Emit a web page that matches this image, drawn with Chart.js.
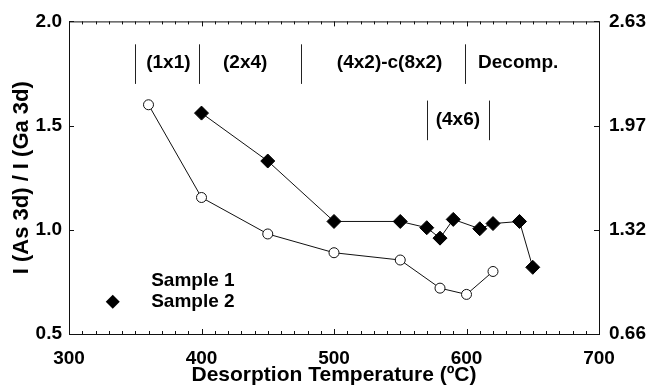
<!DOCTYPE html>
<html>
<head>
<meta charset="utf-8">
<script src="https://cdn.jsdelivr.net/npm/chart.js@4.4.0/dist/chart.umd.min.js"></script>
<style>
  body { margin: 0; background: #fff; }
  canvas { display: block; }
</style>
</head>
<body>
<canvas id="chart" width="648" height="388"></canvas>
<script>
// values
const temps1 = [360, 400, 450, 500, 550, 580, 600, 620];
const sample1 = [1.60, 1.155, 0.98, 0.89, 0.855, 0.72, 0.69, 0.80];
const temps2 = [400, 450, 500, 550, 570, 580, 590, 610, 620, 640, 650];
const sample2 = [1.56, 1.33, 1.04, 1.04, 1.01, 0.96, 1.05, 1.005, 1.03, 1.04, 0.82];

const xTicks = [300, 400, 500, 600, 700];
const leftTicks = [0.5, 1.0, 1.5, 2.0];
const rightTickLabels = ['0.66', '1.32', '1.97', '2.63'];

// surface phases along the temperature axis
const phaseBounds = [350, 398, 475, 599];
const phaseLabels = ['(1x1)', '(2x4)', '(4x2)-c(8x2)', 'Decomp.'];
const phaseLabelX = [375, 433, 542, 639];
const subPhaseBounds = [570, 617];
const subPhaseLabel = '(4x6)';

const FONT = '"Liberation Sans", Arial, Helvetica, sans-serif';

const toPoints = (xs, ys) => xs.map((x, i) => ({ x, y: ys[i] }));

const framePlugin = {
    id: 'frame',
    beforeDraw(chart) {
        const ctx = chart.ctx;
        ctx.save();
        ctx.fillStyle = '#fff';
        ctx.fillRect(0, 0, chart.width, chart.height);
        ctx.restore();
    },
    afterDraw(chart) {
        const { ctx, chartArea: a, scales } = chart;
        const x = scales.x, y = scales.y;
        ctx.save();
        ctx.strokeStyle = '#111';
        ctx.lineWidth = 1;
        ctx.strokeRect(a.left + 0.5, a.top + 0.5, a.right - a.left, a.bottom - a.top);

        // inward tick marks
        ctx.beginPath();
        for (let t = 300; t <= 700; t += 10) {
            const px = Math.round(x.getPixelForValue(t)) + 0.5;
            const len = t % 100 === 0 ? 5 : 3;
            ctx.moveTo(px, a.bottom); ctx.lineTo(px, a.bottom - len);
            ctx.moveTo(px, a.top); ctx.lineTo(px, a.top + len);
        }
        leftTicks.forEach(v => {
            const py = Math.round(y.getPixelForValue(v)) + 0.5;
            ctx.moveTo(a.left, py); ctx.lineTo(a.left + 5, py);
            ctx.moveTo(a.right, py); ctx.lineTo(a.right - 5, py);
        });
        ctx.stroke();

        // phase regions
        ctx.strokeStyle = '#222';
        ctx.beginPath();
        phaseBounds.forEach(t => {
            const px = Math.round(x.getPixelForValue(t)) + 0.5;
            ctx.moveTo(px, y.getPixelForValue(1.89));
            ctx.lineTo(px, y.getPixelForValue(1.70));
        });
        subPhaseBounds.forEach(t => {
            const px = Math.round(x.getPixelForValue(t)) + 0.5;
            ctx.moveTo(px, y.getPixelForValue(1.62));
            ctx.lineTo(px, y.getPixelForValue(1.43));
        });
        ctx.stroke();

        ctx.fillStyle = '#000';
        ctx.font = 'bold 19px ' + FONT;
        ctx.textAlign = 'center';
        ctx.textBaseline = 'middle';
        phaseLabels.forEach((lab, i) => {
            ctx.fillText(lab, x.getPixelForValue(phaseLabelX[i]), y.getPixelForValue(1.80));
        });
        ctx.fillText(subPhaseLabel,
            x.getPixelForValue((subPhaseBounds[0] + subPhaseBounds[1]) / 2),
            y.getPixelForValue(1.53));

        // legend
        const lx = x.getPixelForValue(362);
        ctx.textAlign = 'left';
        ctx.fillText(chart.data.datasets[0].label, lx, y.getPixelForValue(0.755));
        ctx.fillText(chart.data.datasets[1].label, lx, y.getPixelForValue(0.655));
        const dx = x.getPixelForValue(333), dy = y.getPixelForValue(0.655);
        ctx.beginPath();
        ctx.moveTo(dx, dy - 7); ctx.lineTo(dx + 7, dy); ctx.lineTo(dx, dy + 7); ctx.lineTo(dx - 7, dy);
        ctx.closePath();
        ctx.fill();
        ctx.restore();
    }
};

new Chart(document.getElementById('chart'), {
    type: 'scatter',
    data: {
        datasets: [
            {
                label: 'Sample 1',
                data: toPoints(temps1, sample1),
                showLine: true,
                borderColor: '#111',
                borderWidth: 1,
                pointStyle: 'circle',
                pointRadius: 5,
                pointBackgroundColor: '#fff',
                pointBorderColor: '#111',
                pointBorderWidth: 1
            },
            {
                label: 'Sample 2',
                data: toPoints(temps2, sample2),
                showLine: true,
                borderColor: '#111',
                borderWidth: 1,
                pointStyle: 'rectRot',
                pointRadius: 7,
                pointBackgroundColor: '#000',
                pointBorderColor: '#000',
                pointBorderWidth: 1
            }
        ]
    },
    options: {
        responsive: false,
        animation: false,
        devicePixelRatio: 1,
        layout: { padding: { top: 18, left: 0, right: 0, bottom: 0 } },
        plugins: {
            legend: { display: false },
            tooltip: { enabled: false }
        },
        scales: {
            x: {
                type: 'linear',
                min: 300,
                max: 700,
                afterBuildTicks: s => { s.ticks = xTicks.map(v => ({ value: v })); },
                afterFit: s => { s.height = 54; },
                grid: { display: false, drawTicks: false },
                border: { display: false },
                ticks: {
                    color: '#000',
                    padding: 13,
                    maxRotation: 0,
                    font: { family: FONT, size: 19, weight: 'bold' }
                },
                title: {
                    display: true,
                    text: 'Desorption Temperature (ºC)',
                    color: '#000',
                    padding: { top: 0, bottom: 0 },
                    font: { family: FONT, size: 21, weight: 'bold' }
                }
            },
            y: {
                type: 'linear',
                position: 'left',
                min: 0.5,
                max: 2.0,
                afterBuildTicks: s => { s.ticks = leftTicks.map(v => ({ value: v })); },
                afterFit: s => { s.width = 69; },
                grid: { display: false, drawTicks: false },
                border: { display: false },
                ticks: {
                    color: '#000',
                    padding: 7,
                    callback: v => v.toFixed(1),
                    font: { family: FONT, size: 19, weight: 'bold' }
                },
                title: {
                    display: true,
                    text: 'I (As 3d) / I (Ga 3d)',
                    color: '#000',
                    padding: { top: 9, bottom: 0 },
                    font: { family: FONT, size: 22, weight: 'bold' }
                }
            },
            y2: {
                type: 'linear',
                position: 'right',
                min: 0.5,
                max: 2.0,
                afterBuildTicks: s => { s.ticks = leftTicks.map(v => ({ value: v })); },
                afterFit: s => { s.width = 49; },
                grid: { display: false, drawTicks: false },
                border: { display: false },
                ticks: {
                    color: '#000',
                    padding: 10,
                    callback: (v, i) => rightTickLabels[i],
                    font: { family: FONT, size: 19, weight: 'bold' }
                }
            }
        }
    },
    plugins: [framePlugin]
});
</script>
</body>
</html>
